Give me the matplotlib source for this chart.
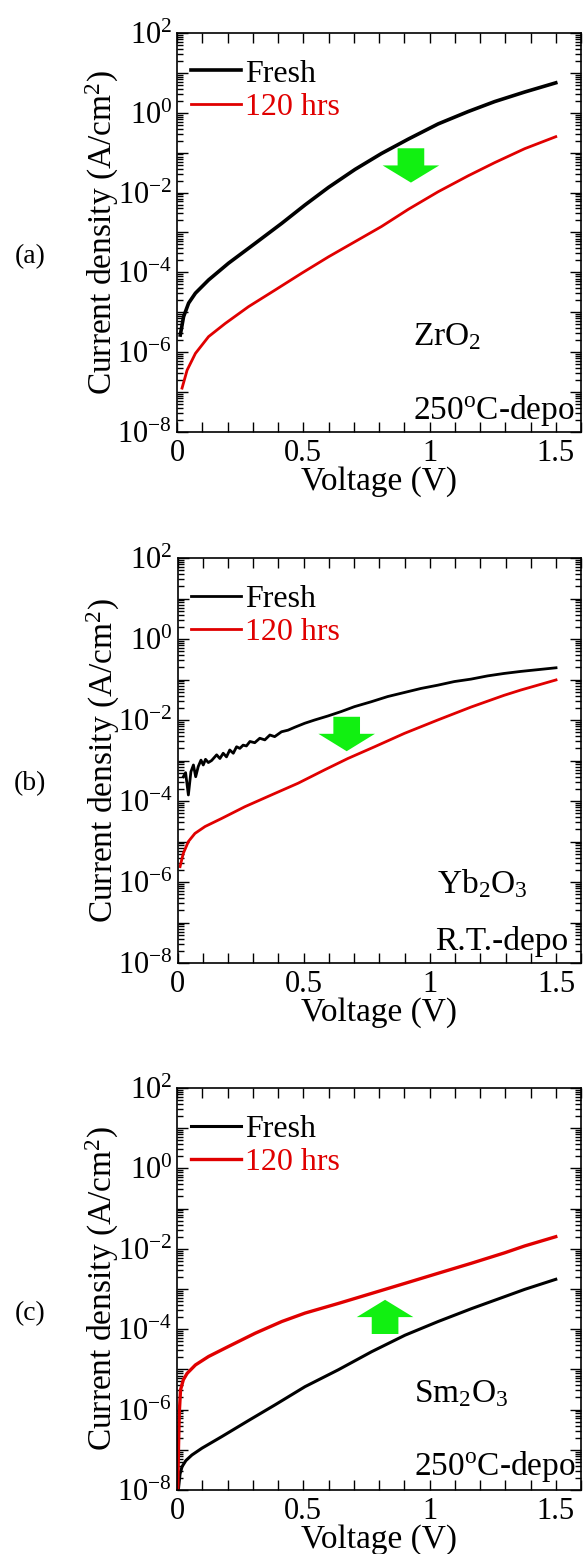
import matplotlib
matplotlib.use("Agg")
import matplotlib.pyplot as plt
import numpy as np
from matplotlib.patches import FancyArrow
from matplotlib.ticker import FuncFormatter, LogLocator, MultipleLocator, NullFormatter

plt.rcParams["font.family"] = ["Liberation Serif", "DejaVu Serif"]
plt.rcParams["mathtext.fontset"] = "custom"
plt.rcParams["mathtext.rm"] = "Liberation Serif"
plt.rcParams["mathtext.it"] = "Liberation Serif:italic"
plt.rcParams["mathtext.bf"] = "Liberation Serif:bold"

RED = "#e00000"
GREEN = "#11f011"

# values are log10 of current density (A/cm^2) vs voltage (V)
# (a) ZrO2, 250 C deposition
a_fresh_v = [0.013, 0.026, 0.046, 0.073, 0.125, 0.204, 0.31, 0.415, 0.507,
             0.60, 0.705, 0.81, 0.916, 1.034, 1.153, 1.258, 1.377, 1.50]
a_fresh_logj = [-5.57, -5.11, -4.77, -4.52, -4.19, -3.77, -3.27, -2.77, -2.31,
                -1.87, -1.42, -1.02, -0.66, -0.28, 0.03, 0.28, 0.52, 0.75]
a_aged_v = [0.020, 0.040, 0.073, 0.125, 0.191, 0.283, 0.389, 0.494, 0.60,
            0.705, 0.81, 0.916, 1.034, 1.153, 1.258, 1.377, 1.50]
a_aged_logj = [-6.90, -6.45, -6.03, -5.61, -5.28, -4.86, -4.44, -4.02, -3.61,
               -3.23, -2.85, -2.42, -1.98, -1.58, -1.25, -0.90, -0.60]

# (b) Yb2O3, room temperature deposition (fresh curve is noisy at low bias)
b_fresh_v = [0.023, 0.032, 0.043, 0.053, 0.063, 0.072, 0.082, 0.093, 0.102,
             0.111, 0.122, 0.135, 0.155, 0.168, 0.181, 0.194, 0.207, 0.221,
             0.234, 0.247, 0.260, 0.273, 0.287, 0.306, 0.326, 0.346, 0.366,
             0.385, 0.412, 0.438, 0.464, 0.504, 0.543, 0.596, 0.649, 0.701,
             0.767, 0.833, 0.899, 0.965, 1.031, 1.097, 1.163, 1.229, 1.294,
             1.36, 1.50]
b_fresh_logj = [-3.40, -3.30, -3.85, -3.28, -3.11, -3.40, -3.15, -2.99, -3.11,
                -2.97, -3.05, -3.00, -2.86, -2.95, -2.82, -2.91, -2.74, -2.82,
                -2.66, -2.70, -2.62, -2.64, -2.53, -2.56, -2.45, -2.49, -2.37,
                -2.41, -2.29, -2.25, -2.18, -2.08, -2.00, -1.90, -1.79, -1.67,
                -1.55, -1.42, -1.32, -1.22, -1.14, -1.05, -0.99, -0.91, -0.85,
                -0.80, -0.71]
b_aged_v = [0.010, 0.023, 0.043, 0.069, 0.109, 0.175, 0.267, 0.372, 0.478,
            0.583, 0.675, 0.781, 0.899, 1.031, 1.163, 1.294, 1.36, 1.50]
b_aged_logj = [-5.62, -5.29, -5.00, -4.80, -4.63, -4.43, -4.14, -3.85, -3.56,
               -3.23, -2.95, -2.66, -2.33, -2.00, -1.68, -1.39, -1.26, -1.01]

# (c) Sm2O3, 250 C deposition
c_fresh_v = [0.006, 0.012, 0.020, 0.035, 0.059, 0.099, 0.178, 0.284, 0.389,
             0.507, 0.639, 0.771, 0.903, 1.034, 1.166, 1.298, 1.377, 1.50]
c_fresh_logj = [-7.95, -7.60, -7.42, -7.27, -7.13, -6.96, -6.67, -6.27, -5.88,
                -5.43, -5.01, -4.56, -4.15, -3.81, -3.49, -3.19, -3.01, -2.76]
c_aged_v = [0.003, 0.006, 0.009, 0.014, 0.025, 0.040, 0.073, 0.125, 0.204,
            0.310, 0.415, 0.507, 0.639, 0.771, 0.903, 1.034, 1.166, 1.298,
            1.377, 1.50]
c_aged_logj = [-8.0, -6.92, -6.09, -5.51, -5.26, -5.10, -4.89, -4.68, -4.43,
               -4.10, -3.81, -3.60, -3.36, -3.11, -2.86, -2.61, -2.36, -2.10,
               -1.93, -1.70]

panels = [
    dict(tag="(a)", tag_y=0.835, rect=[0.3036, 0.722, 0.693, 0.2568],
         fresh=(a_fresh_v, a_fresh_logj), aged=(a_aged_v, a_aged_logj),
         lw_fresh=2.6, lw_aged=2.0,
         oxide=r"ZrO$_2$", oxide_xy=(0.583, 0.218),
         depo=r"250$^{\mathrm{o}}$C-depo", depo_xy=(0.583, 0.032),
         arrow=(0.579, 0.711, -0.086)),
    dict(tag="(b)", tag_y=0.496, rect=[0.3045, 0.3803, 0.6925, 0.2606],
         fresh=(b_fresh_v, b_fresh_logj), aged=(b_aged_v, b_aged_logj),
         lw_fresh=2.0, lw_aged=2.0,
         oxide=r"Yb$_2$O$_3$", oxide_xy=(0.643, 0.173),
         depo="R.T.-depo", depo_xy=(0.638, 0.032),
         arrow=(0.419, 0.608, -0.085)),
    dict(tag="(c)", tag_y=0.155, rect=[0.3036, 0.0412, 0.693, 0.2587],
         fresh=(c_fresh_v, c_fresh_logj), aged=(c_aged_v, c_aged_logj),
         lw_fresh=2.2, lw_aged=2.4,
         oxide=r"Sm$_2$O$_3$", oxide_xy=(0.586, 0.218),
         depo=r"250$^{\mathrm{o}}$C-depo", depo_xy=(0.586, 0.037),
         arrow=(0.515, 0.388, 0.085)),
]


def decade_label(val, pos):
    e = int(round(np.log10(val)))
    if e % 2:
        return ""
    return r"10$^{%d}$" % e


fig = plt.figure(figsize=(5.83, 15.54), dpi=100)
for p in panels:
    ax = fig.add_axes(p["rect"])
    fv, fj = p["fresh"]
    av, aj = p["aged"]
    ax.semilogy(fv, 10 ** np.array(fj), color="k", lw=p["lw_fresh"], label="Fresh")
    ax.semilogy(av, 10 ** np.array(aj), color=RED, lw=p["lw_aged"], label="120 hrs")
    ax.set_xlim(0, 1.6)
    ax.set_ylim(1e-8, 1e2)

    ax.xaxis.set_major_locator(MultipleLocator(0.5))
    ax.xaxis.set_minor_locator(MultipleLocator(0.1))
    ax.xaxis.set_major_formatter(FuncFormatter(lambda v, pos: "%g" % v))
    ax.yaxis.set_major_locator(LogLocator(base=10, numticks=20))
    ax.yaxis.set_minor_locator(LogLocator(base=10, subs=np.arange(2, 10), numticks=20))
    ax.yaxis.set_major_formatter(FuncFormatter(decade_label))
    ax.yaxis.set_minor_formatter(NullFormatter())
    ax.tick_params(which="both", direction="in", top=True, right=True,
                   labelsize=22, width=1.0)
    ax.tick_params(axis="x", which="both", length=7, pad=5)
    ax.tick_params(axis="y", which="major", length=8, pad=3.5)
    ax.tick_params(axis="y", which="minor", length=4.5)
    for s in ax.spines.values():
        s.set_linewidth(1.2)

    ax.set_xlabel("Voltage (V)", fontsize=24, labelpad=-1)
    ax.set_ylabel("Current density (A/cm$^2$)", fontsize=24, labelpad=-3)

    ax.legend(loc="upper left", bbox_to_anchor=(-0.013, 0.982), frameon=False,
              fontsize=23, handlelength=1.56, handletextpad=0.12,
              labelspacing=0.12, borderaxespad=0.2, labelcolor="linecolor")

    ax.text(*p["oxide_xy"], p["oxide"], transform=ax.transAxes, fontsize=24,
            ha="left", va="baseline")
    ax.text(*p["depo_xy"], p["depo"], transform=ax.transAxes, fontsize=24,
            ha="left", va="baseline")

    arr_x, arr_y, arr_dy = p["arrow"]
    ax.add_patch(FancyArrow(arr_x, arr_y, 0, arr_dy, width=0.066, head_width=0.14,
                            head_length=0.043, length_includes_head=True,
                            transform=ax.transAxes, color=GREEN, lw=0))

    fig.text(0.051, p["tag_y"], p["tag"], fontsize=20, ha="center", va="center")

fig.savefig("out.png", dpi=100)
